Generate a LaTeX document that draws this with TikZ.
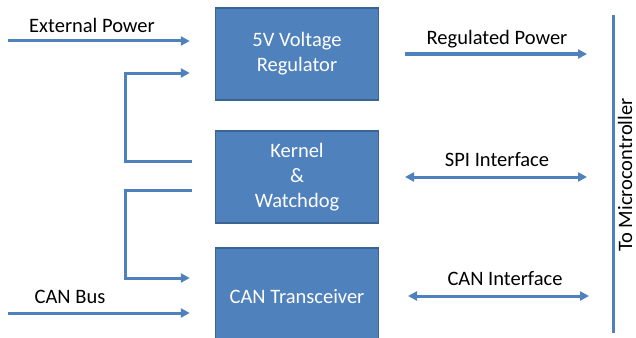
\documentclass[tikz,border=0pt]{standalone}
\usepackage{fontspec}
\setmainfont{Carlito}
\usetikzlibrary{positioning}
\usetikzlibrary{arrows.meta}
\definecolor{boxblue}{HTML}{4F81BD}
\definecolor{boxedge}{HTML}{3B6494}

\begin{document}
\begin{tikzpicture}[x=1pt,y=-1pt,
  block/.style={draw=boxedge, line width=1.5pt, fill=boxblue, text=white, align=center, minimum width=163pt, font=\fontsize{20.5}{25}\selectfont},
  link/.style={draw=boxblue, line width=3pt, -{Triangle[length=9pt,width=9pt]}},
  both/.style={link, {Triangle[length=9pt,width=9pt]}-{Triangle[length=9pt,width=9pt]}},
  tag/.style={font=\fontsize{20.5}{24}\selectfont, text=black, inner sep=1pt}]
 	 \clip (0,0) rectangle (636,337);
 	 \fill[white] (0,0) rectangle (636,337);

 	 % The three blocks
 	 \node[block, minimum height=92pt] (reg) at (297,54) {5V Voltage\\Regulator};
 	 \node[block, minimum height=92pt] (kern) at (297,177) {Kernel\\\&\\Watchdog};
 	 \node[block, minimum height=98pt] (can) at (297,297) {CAN Transceiver};

 	 % Free ends of the connectors
 	 \coordinate (extin) at (8,41);
 	 \coordinate (busin) at (8,313);
 	 \coordinate (kernout1) at (192,161);
 	 \coordinate (kernout2) at (192,190);
 	 \coordinate (regout) at (405,54);
 	 \coordinate (mcuregp) at (587,54);
 	 \coordinate (spileft) at (405,177);
 	 \coordinate (spiright) at (587,177);
 	 \coordinate (canleft) at (408,296);
 	 \coordinate (canright) at (589,296);
 	 \coordinate (mcutop) at (613,15);
 	 \coordinate (mcubot) at (613,333);

 	 % Inputs on the left
 	 \draw[link] (extin) -- ([xshift=-25pt]reg.west |- extin);
 	 \draw[link] (busin) -- ([xshift=-25pt]can.west |- busin);
 	 \draw[link] (kernout1) -| (125,73) -- ([xshift=-25pt]reg.west |- 0,73);
 	 \draw[link] (kernout2) -| (125,278) -- ([xshift=-25pt]can.west |- 0,278);
 	 \node[tag] (exttag) at (92,25) {External Power};
 	 \node[tag] (bustag) at (70,297) {CAN Bus};

 	 % Outputs towards the microcontroller
 	 \draw[link] (regout) -- (mcuregp);
 	 \draw[both] (spileft) -- (spiright);
 	 \draw[both] (canleft) -- (canright);
 	 \node[tag] (regtag) at (497,39) {Regulated Power};
 	 \node[tag] (spitag) at (497,160) {SPI Interface};
 	 \node[tag] (cantag) at (505,279) {CAN Interface};

 	 % Microcontroller bus
 	 \draw[boxblue, line width=3pt] (mcutop) -- (mcubot);
 	 \node[tag, rotate=90] (mcutag) at (625,175) {To Microcontroller};
\end{tikzpicture}
\end{document}
